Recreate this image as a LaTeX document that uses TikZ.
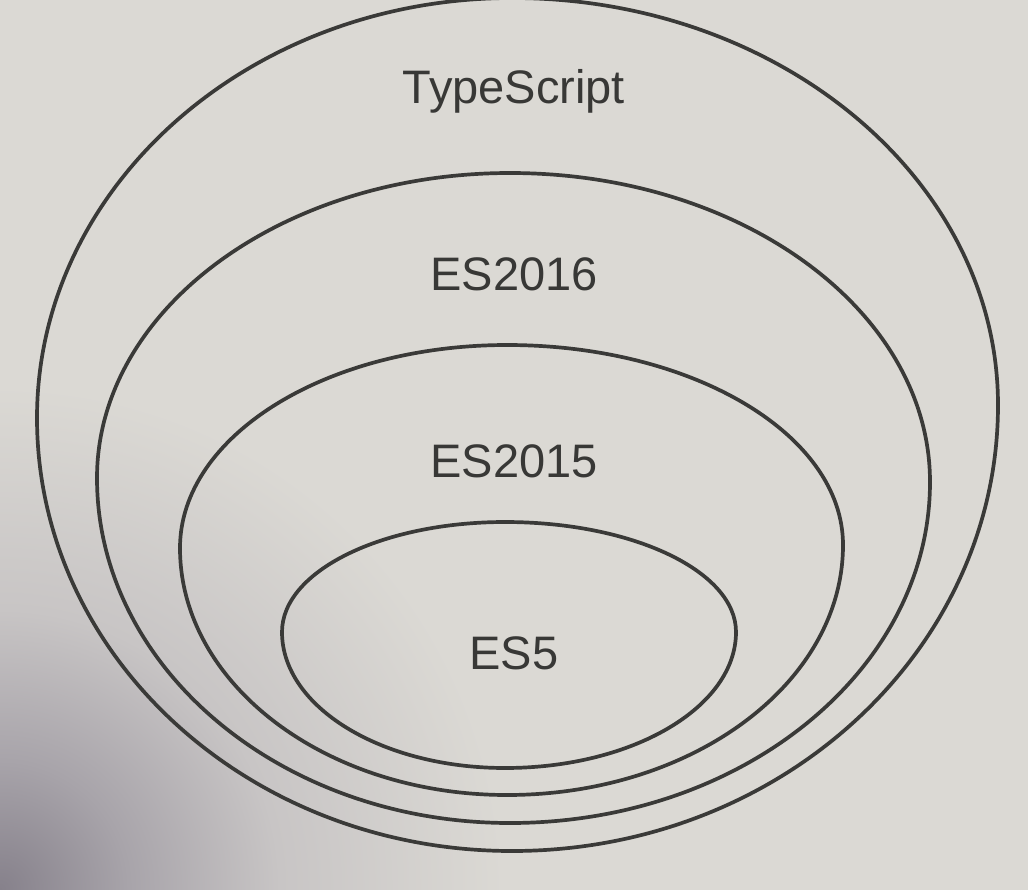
\documentclass[tikz,border=0pt]{standalone}
\usepackage{fontspec}
\setmainfont{Liberation Sans}
\usetikzlibrary{shadings}
\definecolor{paper}{HTML}{DBD9D4}
\definecolor{paperA}{HTML}{C8C5C5}
\definecolor{paperB}{HTML}{A8A4AA}
\definecolor{paperdark}{HTML}{86818B}
\pgfdeclareradialshading{cornershade}{\pgfpoint{0bp}{0bp}}{color(0bp)=(paperdark); color(2.3bp)=(paperB); color(5bp)=(paperA); color(9bp)=(paper); color(50bp)=(paper)}
\begin{document}
\begin{tikzpicture}[x=1pt,y=-1pt,
  ring/.style={draw=linegray,line width=3.7pt},
  lbl/.style={text=textgray,font=\fontsize{47}{50}\selectfont,anchor=base,inner sep=0pt}]
\definecolor{linegray}{HTML}{3A3A38}
\definecolor{textgray}{HTML}{383836}
\newcommand{\myegg}[7]{% cx, top, bottom, left, ymL, right, ymR
  \draw[ring] (#1,#2) .. controls ({#1-0.5523*(#1-#4)},#2) and (#4,{#5-0.5523*(#5-#2)}) .. (#4,#5)
    .. controls (#4,{#5+0.5523*(#3-#5)}) and ({#1-0.5523*(#1-#4)},#3) .. (#1,#3)
    .. controls ({#1+0.5523*(#6-#1)},#3) and (#6,{#7+0.5523*(#3-#7)}) .. (#6,#7)
    .. controls (#6,{#7-0.5523*(#7-#2)}) and ({#1+0.5523*(#6-#1)},#2) .. cycle;}
\useasboundingbox (0,0) rectangle (1028,889);
\begin{scope}
\clip (0,0) rectangle (1028,889);
\shade[shading=cornershade] (0,889) circle (1400);
\end{scope}
\myegg{512}{-2}{851}{37}{418}{998}{405}
\myegg{510}{173}{823}{97}{478}{930}{482}
\myegg{507}{345}{795}{180}{548}{843}{545}
\myegg{505}{522}{768}{282}{632}{736}{632}
\node[lbl] (ts) at (514,103) {TypeScript};
\node[lbl] (es16) at (514,290) {ES2016};
\node[lbl] (es15) at (514,477) {ES2015};
\node[lbl] (es5) at (514,669) {ES5};
\end{tikzpicture}
\end{document}
